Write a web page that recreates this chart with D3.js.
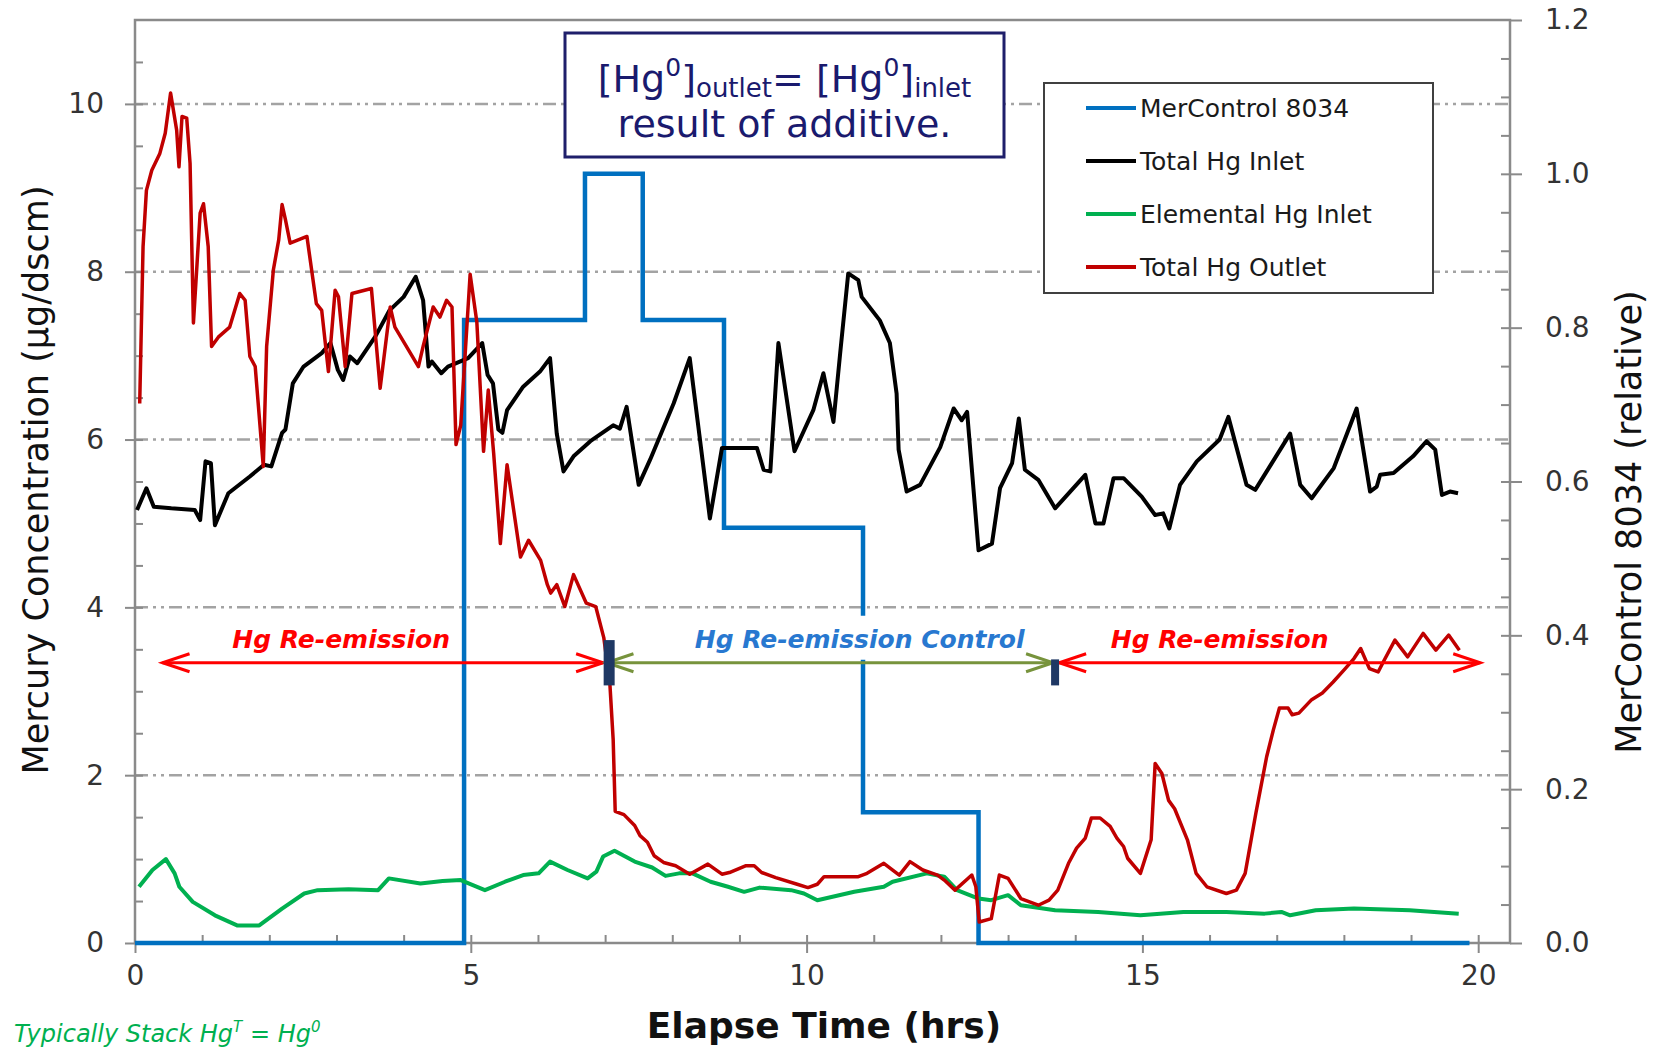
<!DOCTYPE html>
<html>
<head>
<meta charset="utf-8">
<script src="https://cdn.jsdelivr.net/npm/d3@7"></script>
<style>
  html, body { margin: 0; padding: 0; background: #fff; }
  svg { display: block; font-family: "DejaVu Sans", sans-serif; }
</style>
</head>
<body>
<svg id="chart" width="1665" height="1050"></svg>
<script>
// Hg concentrations vs elapsed time

// [time (hrs), µg/dscm]
const totalInlet = [
  [0.03,5.16],[0.17,5.42],[0.28,5.20],[0.54,5.18],[0.89,5.16],[0.97,5.04],[1.05,5.74],[1.13,5.72],
  [1.19,4.98],[1.39,5.36],[1.71,5.56],[1.92,5.70],[2.03,5.68],[2.19,6.08],[2.24,6.12],[2.35,6.67],
  [2.51,6.87],[2.78,7.03],[2.91,7.15],[3.02,6.83],[3.10,6.71],[3.20,6.99],[3.31,6.91],[3.58,7.23],
  [3.79,7.54],[4.00,7.70],[4.18,7.94],[4.29,7.66],[4.37,6.87],[4.42,6.93],[4.56,6.79],[4.66,6.87],
  [4.96,6.97],[5.17,7.15],[5.25,6.77],[5.33,6.67],[5.41,6.12],[5.47,6.08],[5.54,6.35],[5.78,6.63],
  [6.03,6.81],[6.18,6.97],[6.28,6.07],[6.38,5.62],[6.53,5.80],[6.78,5.98],[7.12,6.17],[7.22,6.13],
  [7.32,6.39],[7.50,5.46],[7.67,5.76],[8.02,6.43],[8.26,6.97],[8.56,5.06],[8.74,5.90],[9.26,5.90],
  [9.36,5.64],[9.46,5.62],[9.58,7.15],[9.82,5.86],[10.10,6.35],[10.25,6.79],[10.40,6.21],[10.50,7.03],
  [10.62,7.98],[10.77,7.90],[10.82,7.70],[11.09,7.42],[11.24,7.15],[11.34,6.55],[11.37,5.88],[11.49,5.38],
  [11.69,5.46],[11.99,5.91],[12.19,6.37],[12.31,6.23],[12.39,6.33],[12.56,4.68],[12.76,4.76],[12.88,5.42],
  [13.06,5.72],[13.16,6.25],[13.25,5.64],[13.45,5.52],[13.70,5.18],[14.15,5.58],[14.30,5.00],[14.42,5.00],
  [14.57,5.54],[14.72,5.54],[14.99,5.32],[15.19,5.10],[15.31,5.12],[15.40,4.94],[15.56,5.46],[15.81,5.74],
  [16.15,6.00],[16.28,6.27],[16.55,5.46],[16.68,5.40],[17.20,6.07],[17.35,5.46],[17.52,5.30],[17.85,5.66],
  [18.19,6.37],[18.39,5.38],[18.49,5.44],[18.54,5.58],[18.74,5.60],[19.03,5.80],[19.23,5.98],[19.36,5.88],
  [19.46,5.34],[19.58,5.38],[19.70,5.36]
];

const totalOutlet = [
  [0.07,6.43],[0.12,8.30],[0.17,8.97],[0.25,9.21],[0.37,9.41],[0.45,9.65],[0.53,10.13],[0.62,9.69],
  [0.655,9.25],[0.70,9.85],[0.77,9.83],[0.82,9.29],[0.87,7.39],[0.97,8.70],[1.02,8.81],[1.09,8.30],
  [1.14,7.11],[1.24,7.22],[1.41,7.34],[1.56,7.74],[1.64,7.66],[1.71,6.99],[1.79,6.87],[1.91,5.68],
  [1.96,7.11],[2.06,8.02],[2.14,8.38],[2.19,8.80],[2.24,8.62],[2.31,8.34],[2.56,8.42],[2.70,7.62],
  [2.78,7.54],[2.88,6.81],[2.98,7.78],[3.03,7.70],[3.13,6.87],[3.23,7.74],[3.52,7.80],[3.65,6.61],
  [3.80,7.58],[3.87,7.34],[4.22,6.87],[4.29,7.11],[4.44,7.58],[4.54,7.46],[4.64,7.66],[4.72,7.58],
  [4.78,5.94],[4.85,6.17],[4.99,7.97],[5.09,7.40],[5.19,5.86],[5.26,6.59],[5.34,5.84],[5.44,4.76],
  [5.54,5.70],[5.74,4.60],[5.86,4.80],[6.04,4.56],[6.14,4.27],[6.19,4.17],[6.28,4.27],[6.40,4.01],
  [6.53,4.39],[6.72,4.05],[6.86,4.01],[6.98,3.64],[7.07,3.10],[7.12,2.42],[7.15,1.57],[7.28,1.53],
  [7.44,1.40],[7.52,1.28],[7.63,1.20],[7.73,1.04],[7.87,0.96],[8.05,0.92],[8.26,0.82],[8.53,0.94],
  [8.74,0.82],[8.85,0.84],[9.09,0.92],[9.22,0.92],[9.33,0.84],[9.54,0.78],[9.86,0.70],[10.02,0.66],
  [10.16,0.70],[10.26,0.79],[10.77,0.79],[10.90,0.83],[11.15,0.95],[11.38,0.81],[11.54,0.97],[11.73,0.87],
  [11.95,0.81],[12.05,0.75],[12.21,0.63],[12.46,0.81],[12.52,0.67],[12.57,0.25],[12.75,0.29],[12.87,0.81],
  [13.00,0.77],[13.19,0.53],[13.45,0.45],[13.61,0.51],[13.74,0.63],[13.90,0.95],[14.02,1.13],[14.15,1.25],
  [14.24,1.49],[14.37,1.49],[14.52,1.39],[14.62,1.25],[14.72,1.15],[14.78,1.01],[14.97,0.83],[15.13,1.23],
  [15.19,2.14],[15.29,2.02],[15.39,1.70],[15.48,1.60],[15.67,1.23],[15.80,0.83],[15.96,0.67],[16.25,0.59],
  [16.40,0.63],[16.53,0.83],[16.69,1.55],[16.85,2.22],[16.95,2.54],[17.04,2.80],[17.17,2.80],[17.23,2.72],
  [17.33,2.74],[17.52,2.90],[17.68,2.98],[17.84,3.11],[18.02,3.27],[18.15,3.39],[18.25,3.51],[18.38,3.27],
  [18.51,3.23],[18.60,3.37],[18.76,3.61],[18.95,3.41],[19.18,3.69],[19.37,3.49],[19.56,3.67],[19.72,3.49]
];

const elementalInlet = [
  [0.06,0.67],[0.26,0.87],[0.46,1.00],[0.59,0.83],[0.66,0.67],[0.86,0.49],[1.19,0.33],[1.52,0.21],
  [1.85,0.21],[2.19,0.41],[2.52,0.59],[2.72,0.63],[3.18,0.64],[3.62,0.63],[3.78,0.77],[4.25,0.71],
  [4.58,0.74],[4.85,0.75],[5.21,0.63],[5.51,0.73],[5.78,0.81],[6.01,0.83],[6.18,0.97],[6.44,0.87],
  [6.74,0.77],[6.87,0.85],[6.97,1.03],[7.14,1.10],[7.44,0.97],[7.70,0.90],[7.90,0.80],[8.10,0.83],
  [8.30,0.83],[8.57,0.73],[8.83,0.67],[9.07,0.61],[9.30,0.66],[9.77,0.63],[9.96,0.59],[10.16,0.51],
  [10.71,0.61],[11.15,0.67],[11.28,0.73],[11.79,0.83],[12.05,0.79],[12.24,0.63],[12.56,0.53],[12.75,0.51],
  [13.00,0.57],[13.19,0.45],[13.70,0.39],[14.34,0.37],[14.97,0.33],[15.61,0.37],[16.25,0.37],[16.82,0.35],
  [17.07,0.37],[17.20,0.33],[17.58,0.39],[18.15,0.41],[18.98,0.39],[19.71,0.35]
];

// MerControl 8034 feed (relative), step changes
const merControlTime = [0, 4.90, 6.70, 7.56, 8.77, 10.84, 12.56, 19.87];
const merControlLevel = [0, 0.81, 1.00, 0.81, 0.54, 0.17, 0, 0];

const xTicks = [0, 5, 10, 15, 20];
const yTicks = [0, 2, 4, 6, 8, 10];
const y2Ticks = [0, 0.2, 0.4, 0.6, 0.8, 1.0, 1.2];

const legendNames = ["MerControl 8034", "Total Hg Inlet", "Elemental Hg Inlet", "Total Hg Outlet"];

// periods marked with arrows (hrs)
const phaseLabels = ["Hg Re-emission", "Hg Re-emission Control", "Hg Re-emission"];
const phaseStart = [0.41, 7.02, 13.76];
const phaseEnd = [6.97, 13.67, 20.03];
const phaseLabelAt = [3.07, 10.79, 16.15];
const switchTimes = [7.06, 13.70];

const svg = d3.select("#chart");
const plot = { left: 135, right: 1510, top: 20, bottom: 943 };
const axisGrey = "#8a8a8a";
const font = "'DejaVu Sans', sans-serif";

const x = d3.scaleLinear().domain([0, 20]).range([plot.left, 1478.2]);
const y = d3.scaleLinear().domain([0, 11]).range([plot.bottom, plot.top]);
const y2 = d3.scaleLinear().domain([0, 1.2]).range([plot.bottom, plot.top]);

// gridlines (dash-dot-dot)
svg.append("g")
  .selectAll("line")
  .data(yTicks.filter(d => d > 0))
  .enter()
  .append("line")
  .attr("x1", plot.left)
  .attr("x2", plot.right)
  .attr("y1", d => y(d))
  .attr("y2", d => y(d))
  .attr("stroke", "#a3a3a3")
  .attr("stroke-width", 2.5)
  .attr("stroke-dasharray", "13,5,3,5,3,5");

function styleTicks(g, size) {
  g.select(".domain").remove();
  g.selectAll(".tick line").attr("stroke", axisGrey).attr("stroke-width", 2);
  g.selectAll(".tick text")
    .attr("fill", "#333")
    .attr("font-size", size)
    .attr("font-family", font);
}

// minor ticks point into the plot
svg.append("g")
  .attr("transform", `translate(${plot.left},0)`)
  .call(d3.axisLeft(y).tickValues(d3.range(1, 22).map(i => i * 0.5)).tickSize(-8).tickFormat(""))
  .call(g => styleTicks(g, 0));
svg.append("g")
  .attr("transform", `translate(0,${plot.bottom})`)
  .call(d3.axisBottom(x).tickValues(d3.range(1, 21)).tickSize(-8).tickFormat(""))
  .call(g => styleTicks(g, 0));
svg.append("g")
  .attr("transform", `translate(${plot.right},0)`)
  .call(d3.axisRight(y2).tickValues(d3.range(1, 24).map(i => i * 0.05)).tickSize(-9).tickFormat(""))
  .call(g => styleTicks(g, 0));

// major ticks + labels
svg.append("g")
  .attr("transform", `translate(${plot.left},0)`)
  .call(d3.axisLeft(y).tickValues(yTicks).tickSize(10).tickPadding(21))
  .call(g => styleTicks(g, 28));
svg.append("g")
  .attr("transform", `translate(0,${plot.bottom})`)
  .call(d3.axisBottom(x).tickValues(xTicks).tickSize(10).tickPadding(12))
  .call(g => styleTicks(g, 28));
svg.append("g")
  .attr("transform", `translate(${plot.right},0)`)
  .call(d3.axisRight(y2).tickValues(y2Ticks).tickSize(12).tickPadding(23).tickFormat(d3.format(".1f")))
  .call(g => styleTicks(g, 28));

// frame
svg.append("rect")
  .attr("x", plot.left)
  .attr("y", plot.top)
  .attr("width", plot.right - plot.left)
  .attr("height", plot.bottom - plot.top)
  .attr("fill", "none")
  .attr("stroke", axisGrey)
  .attr("stroke-width", 2.5);

// series
const line = d3.line().x(d => x(d[0])).y(d => y(d[1]));
const stepLine = d3.line().curve(d3.curveStepAfter).x(d => x(d[0])).y(d => y2(d[1]));

svg.append("path")
  .datum(merControlTime.map((t, i) => [t, merControlLevel[i]]))
  .attr("d", stepLine)
  .attr("fill", "none")
  .attr("stroke", "#0070c0")
  .attr("stroke-width", 4.5);

const series = [
  { data: totalInlet, color: "#000000", width: 4 },
  { data: elementalInlet, color: "#00b050", width: 4 },
  { data: totalOutlet, color: "#c00000", width: 3.5 }
];
series.forEach(s => {
  svg.append("path")
    .datum(s.data)
    .attr("d", line)
    .attr("fill", "none")
    .attr("stroke", s.color)
    .attr("stroke-width", s.width)
    .attr("stroke-linejoin", "round");
});

// period arrows
const arrowY = y(3.34);
const arrowColors = ["#ff0000", "#77933c", "#ff0000"];
const labelColors = ["#ff0000", "#2878d0", "#ff0000"];

function chevron(g, tipX, dir, color) {
  g.append("path")
    .attr("d", `M${tipX - dir * 27},${arrowY - 9}L${tipX},${arrowY}L${tipX - dir * 27},${arrowY + 9}`)
    .attr("fill", "none")
    .attr("stroke", color)
    .attr("stroke-width", 3);
}

const phases = svg.append("g");
phaseLabels.forEach((lab, i) => {
  const label = phases.append("text")
    .attr("x", x(phaseLabelAt[i]))
    .attr("y", arrowY - 15)
    .attr("text-anchor", "middle")
    .attr("font-size", 25)
    .attr("font-style", "italic")
    .attr("font-weight", "bold")
    .attr("fill", labelColors[i])
    .text(lab);
  if (i === 1) {
    // this label sits on a white box that hides the step line
    const b = label.node().getBBox();
    phases.insert("rect", "text")
      .attr("x", b.x - 6)
      .attr("y", b.y - 9)
      .attr("width", b.width + 12)
      .attr("height", arrowY - 3 - (b.y - 9))
      .attr("fill", "#fff");
  }
  phases.append("line")
    .attr("x1", x(phaseStart[i]))
    .attr("x2", x(phaseEnd[i]))
    .attr("y1", arrowY)
    .attr("y2", arrowY)
    .attr("stroke", arrowColors[i])
    .attr("stroke-width", 3);
  chevron(phases, x(phaseStart[i]), -1, arrowColors[i]);
  chevron(phases, x(phaseEnd[i]), 1, arrowColors[i]);
});

// navy switch markers
const markerTop = [3.61, 3.38];
const markerWidth = [11, 8];
switchTimes.forEach((t, i) => {
  svg.append("rect")
    .attr("x", x(t) - markerWidth[i] / 2)
    .attr("y", y(markerTop[i]))
    .attr("width", markerWidth[i])
    .attr("height", y(3.07) - y(markerTop[i]))
    .attr("fill", "#1f3864");
});

// note box
const note = svg.append("g");
note.append("rect")
  .attr("x", 565).attr("y", 33)
  .attr("width", 439).attr("height", 124)
  .attr("fill", "#fff")
  .attr("stroke", "#1f1f6b")
  .attr("stroke-width", 3);
const noteLine = note.append("text")
  .attr("x", 784.5).attr("y", 92)
  .attr("text-anchor", "middle")
  .attr("fill", "#1a1a6e")
  .attr("font-size", 38);
noteLine.append("tspan").text("[Hg");
noteLine.append("tspan").attr("font-size", 25).attr("dy", -16).text("0");
noteLine.append("tspan").attr("dy", 16).text("]");
noteLine.append("tspan").attr("font-size", 26).attr("dy", 5).text("outlet");
noteLine.append("tspan").attr("dy", -5).text("= [Hg");
noteLine.append("tspan").attr("font-size", 25).attr("dy", -16).text("0");
noteLine.append("tspan").attr("dy", 16).text("]");
noteLine.append("tspan").attr("font-size", 26).attr("dy", 5).text("inlet");
note.append("text")
  .attr("x", 784.5).attr("y", 137)
  .attr("text-anchor", "middle")
  .attr("fill", "#1a1a6e")
  .attr("font-size", 38)
  .text("result of additive.");

// legend
const legendColors = ["#0070c0", "#000000", "#00b050", "#c00000"];
const legend = svg.append("g");
legend.append("rect")
  .attr("x", 1044).attr("y", 83)
  .attr("width", 389).attr("height", 210)
  .attr("fill", "#fff")
  .attr("stroke", "#404040")
  .attr("stroke-width", 2);
legendNames.forEach((name, i) => {
  const ly = 108 + i * 53;
  legend.append("line")
    .attr("x1", 1086).attr("x2", 1136)
    .attr("y1", ly).attr("y2", ly)
    .attr("stroke", legendColors[i])
    .attr("stroke-width", 4);
  legend.append("text")
    .attr("x", 1140).attr("y", ly + 9)
    .attr("font-size", 25)
    .attr("fill", "#1a1a1a")
    .text(name);
});

// axis titles
svg.append("text")
  .attr("transform", "translate(48,480) rotate(-90)")
  .attr("text-anchor", "middle")
  .attr("font-size", 35)
  .attr("fill", "#111")
  .text("Mercury Concentration (µg/dscm)");
svg.append("text")
  .attr("transform", "translate(1641,522) rotate(-90)")
  .attr("text-anchor", "middle")
  .attr("font-size", 35)
  .attr("fill", "#111")
  .text("MerControl 8034 (relative)");
svg.append("text")
  .attr("x", 824).attr("y", 1038)
  .attr("text-anchor", "middle")
  .attr("font-size", 36)
  .attr("font-weight", "bold")
  .attr("fill", "#111")
  .text("Elapse Time (hrs)");

// footnote at the bottom-left corner
const foot = svg.append("text")
  .attr("x", 14).attr("y", 1042)
  .attr("font-size", 24)
  .attr("font-style", "italic")
  .attr("fill", "#00b050");
foot.append("tspan").text("Typically Stack Hg");
foot.append("tspan").attr("font-size", 15).attr("dy", -10).text("T");
foot.append("tspan").attr("dy", 10).text(" = Hg");
foot.append("tspan").attr("font-size", 15).attr("dy", -10).text("0");
</script>
</body>
</html>
